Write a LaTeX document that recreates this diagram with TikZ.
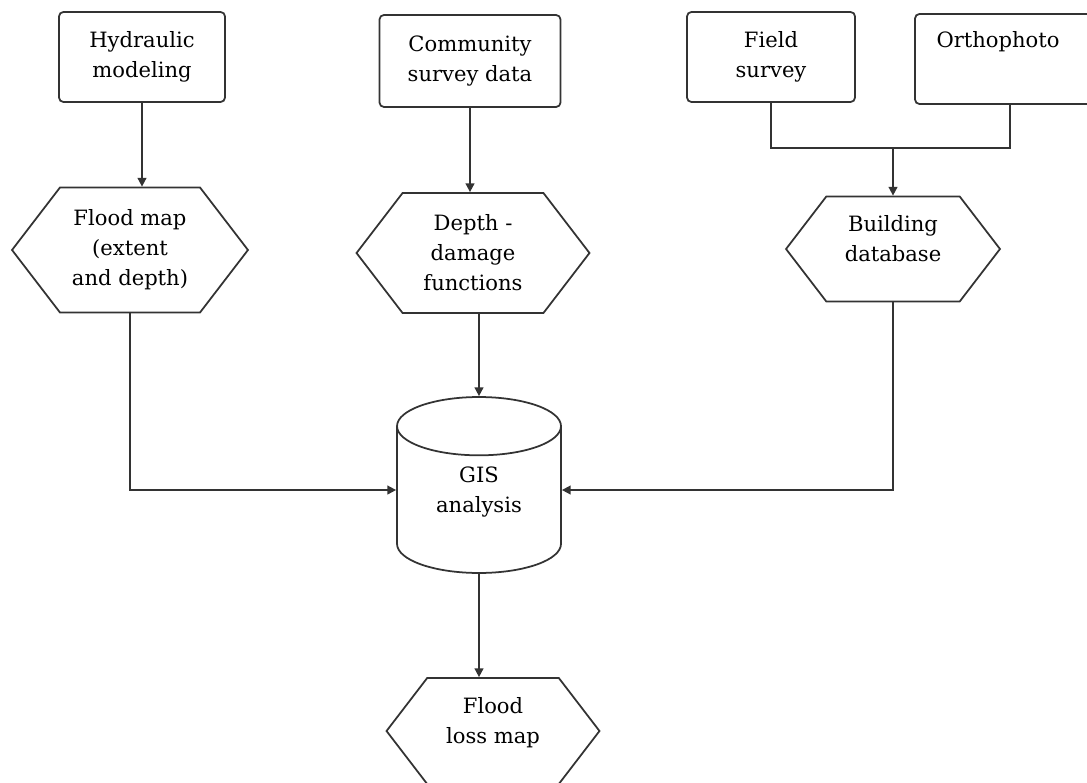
\documentclass[tikz,border=0pt]{standalone}
\usepackage{fontspec}
\setmainfont{DejaVu Serif}
\usetikzlibrary{arrows.meta, positioning, calc, shapes.geometric, shapes.symbols}

\tikzset{
  every node/.style={font=\fontsize{12}{17}\selectfont, align=center},
  flow/.style={draw=black!80, line width=1pt},
  arr/.style={flow, -{Triangle[length=5pt, width=5pt]}},
  inbox/.style={flow, rounded corners=2.5pt, inner sep=0pt},
  hexbox/.style={flow, signal, signal from=nowhere, signal to=east and west,
    signal pointer angle=105, inner sep=0pt},
  tank/.style={flow, cylinder, shape border rotate=90, aspect=0.68, inner sep=0pt},
}

\begin{document}
\begin{tikzpicture}[x=0.02cm, y=-0.02cm]
    \clip (0,0) rectangle (1087,783);

    % Input data
    \node[inbox, minimum width=3.32cm, minimum height=1.8cm] (hydro) at (142,57) {Hydraulic\\modeling};
    \node[inbox, minimum width=3.62cm, minimum height=1.84cm] (community) at (470,61) {Community\\survey data};
    \node[inbox, minimum width=3.36cm, minimum height=1.8cm] (field) at (771,57) {Field\\survey};
    \node[inbox, minimum width=3.8cm, minimum height=1.8cm] (ortho) at (1010,59) {Orthophoto\hspace*{0.48cm}\\\strut};

    % Intermediate products
    \node[hexbox, minimum width=4.72cm, minimum height=2.5cm] (flood) at (130,250) {Flood map\\(extent\\and depth)};
    \node[hexbox, minimum width=4.66cm, minimum height=2.4cm] (depth) at (473,253) {Depth -\\damage\\functions};
    \node[hexbox, minimum width=4.28cm, minimum height=2.1cm, text depth=12pt] (building) at (893,249) {Building\\database};

    % Analysis and result
    \node[tank, minimum width=3.28cm, minimum height=3.52cm, text depth=12pt, anchor=shape center] (gis) at (479,485) {GIS\\analysis};
    \node[hexbox, minimum width=4.26cm, minimum height=2.12cm, text depth=12pt] (loss) at (493,731) {Flood\\loss map};

    % Connectors
    \coordinate (merge) at (893,148);
    \draw[arr] (hydro) -- (hydro |- flood.north);
    \draw[arr] (community) -- (community |- depth.north);
    \draw[flow] (field.south) |- (merge) -| (ortho.south);
    \draw[arr] (merge) -- (building.north);
    \draw[arr] (flood.south) |- ([yshift=0.2cm]gis.west);
    \draw[arr] (depth.south -| gis.north) -- (gis.north);
    \draw[arr] (building.south) |- ([yshift=0.2cm]gis.east);
    \draw[arr] (gis.south) -- (gis.south |- loss.north);
\end{tikzpicture}
\end{document}
